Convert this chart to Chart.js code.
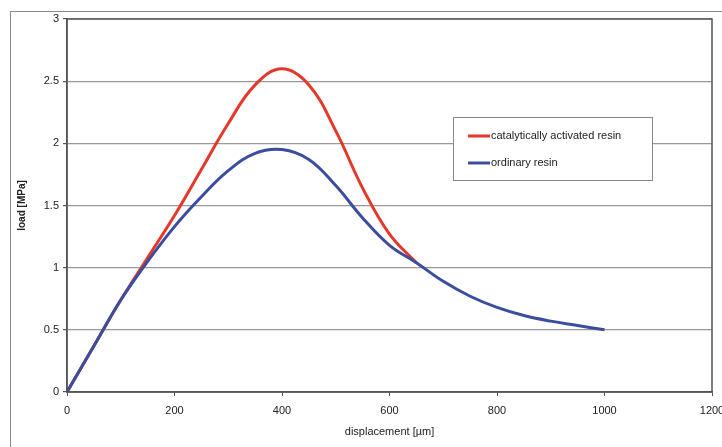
<!DOCTYPE html>
<html>
<head>
<meta charset="utf-8">
<script src="https://cdn.jsdelivr.net/npm/chart.js@4"></script>
<style>
  html, body { margin: 0; padding: 0; background: #fff; }
  #frame { position: absolute; left: 10px; top: 11px; width: 712px; height: 436px; border-left: 1px solid #8a8a8a; border-top: 1px solid #8a8a8a; box-sizing: border-box; }
  #wrap { position: absolute; left: 0; top: 0; width: 722px; height: 447px; }
</style>
</head>
<body>
<div id="frame"></div>
<div id="wrap"><canvas id="myChart"></canvas></div>
<script>
// displacement in µm
let displacement = [0, 50, 100, 150, 200, 250, 300, 350, 400, 450, 500, 550, 600, 650, 700, 750, 800, 850, 900, 950, 1000];
let catalytic = [0, 0.37, 0.74, 1.08, 1.42, 1.79, 2.16, 2.47, 2.60, 2.47, 2.10, 1.64, 1.27, 1.04];
let ordinary = [0, 0.37, 0.74, 1.05, 1.33, 1.57, 1.78, 1.92, 1.95, 1.87, 1.66, 1.40, 1.18, 1.04, 0.89, 0.77, 0.68, 0.615, 0.57, 0.535, 0.5];
let seriesNames = ['catalytically activated resin', 'ordinary resin'];
let xTicks = [0, 200, 400, 600, 800, 1000, 1200];
let yTicks = [0, 0.5, 1, 1.5, 2, 2.5, 3];

function toPoints(ys) {
    let pts = [];
    for (let i = 0; i < ys.length; i++) {
        pts.push({ x: displacement[i], y: ys[i] });
    }
    return pts;
}

// legend drawn inside the plot, and box around the plot
const boxPlugin = {
    id: 'boxPlugin',
    afterDraw(chart) {
        const c = chart.ctx;
        const a = chart.chartArea;
        c.save();
        c.strokeStyle = '#555';
        c.lineWidth = 1.5;
        c.strokeRect(a.left, a.top, a.right - a.left, a.bottom - a.top);

        let lx = 453, ly = 117;
        let lw = 199, lh = 63;
        c.fillStyle = '#fff';
        c.fillRect(lx, ly, lw, lh);
        c.strokeStyle = '#888';
        c.lineWidth = 1;
        c.strokeRect(lx + 0.5, ly + 0.5, lw, lh);
        c.font = '11px "Liberation Sans", Arial, sans-serif';
        c.textBaseline = 'middle';
        const ds = chart.data.datasets;
        let rows = [ly + 19, ly + 46];
        let order = [1, 0];
        for (let k = 0; k < 2; k++) {
            let d = ds[order[k]];
            c.strokeStyle = d.borderColor;
            c.lineWidth = 3;
            c.beginPath();
            c.moveTo(lx + 15, rows[k]);
            c.lineTo(lx + 37, rows[k]);
            c.stroke();
            c.fillStyle = '#222';
            c.fillText(d.label, lx + 38, rows[k]);
        }
        c.restore();
    }
};

const fontFam = '"Liberation Sans", Arial, sans-serif';
const ctx = document.getElementById('myChart');
new Chart(ctx, {
    type: 'scatter',
    data: {
        datasets: [{
            label: seriesNames[1],
            data: toPoints(ordinary),
            borderColor: '#3a4d9f',
            borderWidth: 3,
            showLine: true,
            pointRadius: 0,
            tension: 0.4,
            order: 0
        }, {
            label: seriesNames[0],
            data: toPoints(catalytic),
            borderColor: '#e5382b',
            borderWidth: 3,
            showLine: true,
            pointRadius: 0,
            tension: 0.4,
            order: 1
        }]
    },
    options: {
        responsive: true,
        maintainAspectRatio: false,
        animation: false,
        layout: { padding: { top: 19, right: 10, left: 12, bottom: 4 } },
        plugins: {
            legend: { display: false },
            tooltip: { enabled: false }
        },
        scales: {
            x: {
                type: 'linear',
                min: 0,
                max: 1200,
                afterBuildTicks: s => { s.ticks = xTicks.map(v => ({ value: v })); },
                afterFit: s => { s.height = 51; s.paddingRight = 0; s.paddingLeft = 0; },
                ticks: {
                    color: '#222',
                    font: { family: fontFam, size: 11 },
                    maxRotation: 0,
                    padding: 8,
                    callback: v => String(v)
                },
                grid: { display: true, drawOnChartArea: false, tickLength: 4, color: '#555' },
                border: { color: '#555', width: 1.5 },
                title: {
                    display: true,
                    text: 'displacement [µm]',
                    color: '#222',
                    font: { family: fontFam, size: 11 },
                    padding: { top: 2 }
                }
            },
            y: {
                min: 0,
                max: 3,
                afterBuildTicks: s => { s.ticks = yTicks.map(v => ({ value: v })); },
                afterFit: s => { s.width = 55; s.paddingTop = 0; s.paddingBottom = 0; },
                ticks: {
                    color: '#222',
                    font: { family: fontFam, size: 11 },
                    padding: 4,
                    callback: v => String(v)
                },
                grid: { color: '#999', lineWidth: 1.2, tickLength: 4, tickColor: '#555' },
                border: { color: '#555', width: 1.5 },
                title: {
                    display: true,
                    text: 'load [MPa]',
                    color: '#222',
                    font: { family: fontFam, size: 10, weight: 'bold' },
                    padding: { bottom: 6 }
                }
            }
        }
    },
    plugins: [boxPlugin]
});
</script>
</body>
</html>
